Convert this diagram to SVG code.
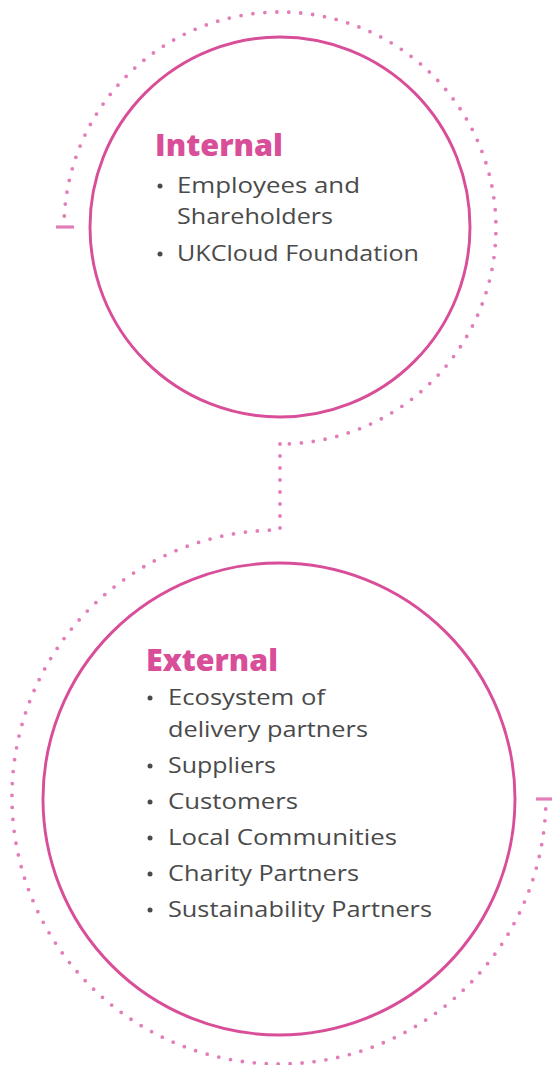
<svg xmlns="http://www.w3.org/2000/svg" width="552" height="1065" viewBox="0 0 552 1065">
  <defs>
    <style>
      .ring { fill: none; stroke: #d94e98; stroke-width: 2.9; }
      .dots { fill: none; stroke: #e27db8; stroke-width: 3.8; stroke-linecap: round; stroke-dasharray: 0 12; }
      .tick { stroke: #e27db8; stroke-width: 3.2; }
      .title { font-family: "Open Sans", "Liberation Sans", sans-serif; font-weight: 800; font-size: 30px; fill: #d94e98; }
      .item { font-family: "Open Sans", "Liberation Sans", sans-serif; font-size: 22px; fill: #4a4a4a; }
      .bullet { fill: #4a4a4a; }
    </style>
  </defs>

  <!-- dotted orbit lines and the link between the two rings -->
  <g id="connectors">
    <!-- upper orbit: from just above the left tick, over the top, round to the bottom -->
    <path class="dots" d="M 64.3 216 A 216 216 0 1 1 280 444"/>
    <!-- vertical link -->
    <path class="dots" d="M 280 444 L 280 530"/>
    <!-- lower orbit: from just below the right tick, round the bottom and left to the top -->
    <path class="dots" d="M 545.7 809 A 267 267 0 1 1 279 530"/>
    <line class="tick" x1="56" y1="227" x2="74" y2="227"/>
    <line class="tick" x1="536" y1="799" x2="552" y2="799"/>
  </g>

  <g id="internal">
    <circle class="ring" cx="280" cy="227" r="190"/>
    <text class="title" x="155" y="156" textLength="128" lengthAdjust="spacingAndGlyphs">Internal</text>
    <circle class="bullet" cx="160" cy="186" r="2.5"/>
    <text class="item" x="177" y="193" textLength="183" lengthAdjust="spacingAndGlyphs">Employees and</text>
    <text class="item" x="177" y="224" textLength="156" lengthAdjust="spacingAndGlyphs">Shareholders</text>
    <circle class="bullet" cx="160" cy="254" r="2.5"/>
    <text class="item" x="177" y="261" textLength="242" lengthAdjust="spacingAndGlyphs">UKCloud Foundation</text>
  </g>

  <g id="external">
    <circle class="ring" cx="279" cy="799" r="236"/>
    <text class="title" x="146" y="671" textLength="132" lengthAdjust="spacingAndGlyphs">External</text>
    <circle class="bullet" cx="150" cy="698" r="2.5"/>
    <text class="item" x="168" y="705" textLength="157" lengthAdjust="spacingAndGlyphs">Ecosystem of</text>
    <text class="item" x="168" y="737" textLength="200" lengthAdjust="spacingAndGlyphs">delivery partners</text>
    <circle class="bullet" cx="150" cy="766" r="2.5"/>
    <text class="item" x="168" y="773" textLength="108" lengthAdjust="spacingAndGlyphs">Suppliers</text>
    <circle class="bullet" cx="150" cy="802" r="2.5"/>
    <text class="item" x="168" y="809" textLength="130" lengthAdjust="spacingAndGlyphs">Customers</text>
    <circle class="bullet" cx="150" cy="838" r="2.5"/>
    <text class="item" x="168" y="845" textLength="229" lengthAdjust="spacingAndGlyphs">Local Communities</text>
    <circle class="bullet" cx="150" cy="874" r="2.5"/>
    <text class="item" x="168" y="881" textLength="191" lengthAdjust="spacingAndGlyphs">Charity Partners</text>
    <circle class="bullet" cx="150" cy="910" r="2.5"/>
    <text class="item" x="168" y="917" textLength="264" lengthAdjust="spacingAndGlyphs">Sustainability Partners</text>
  </g>
</svg>
